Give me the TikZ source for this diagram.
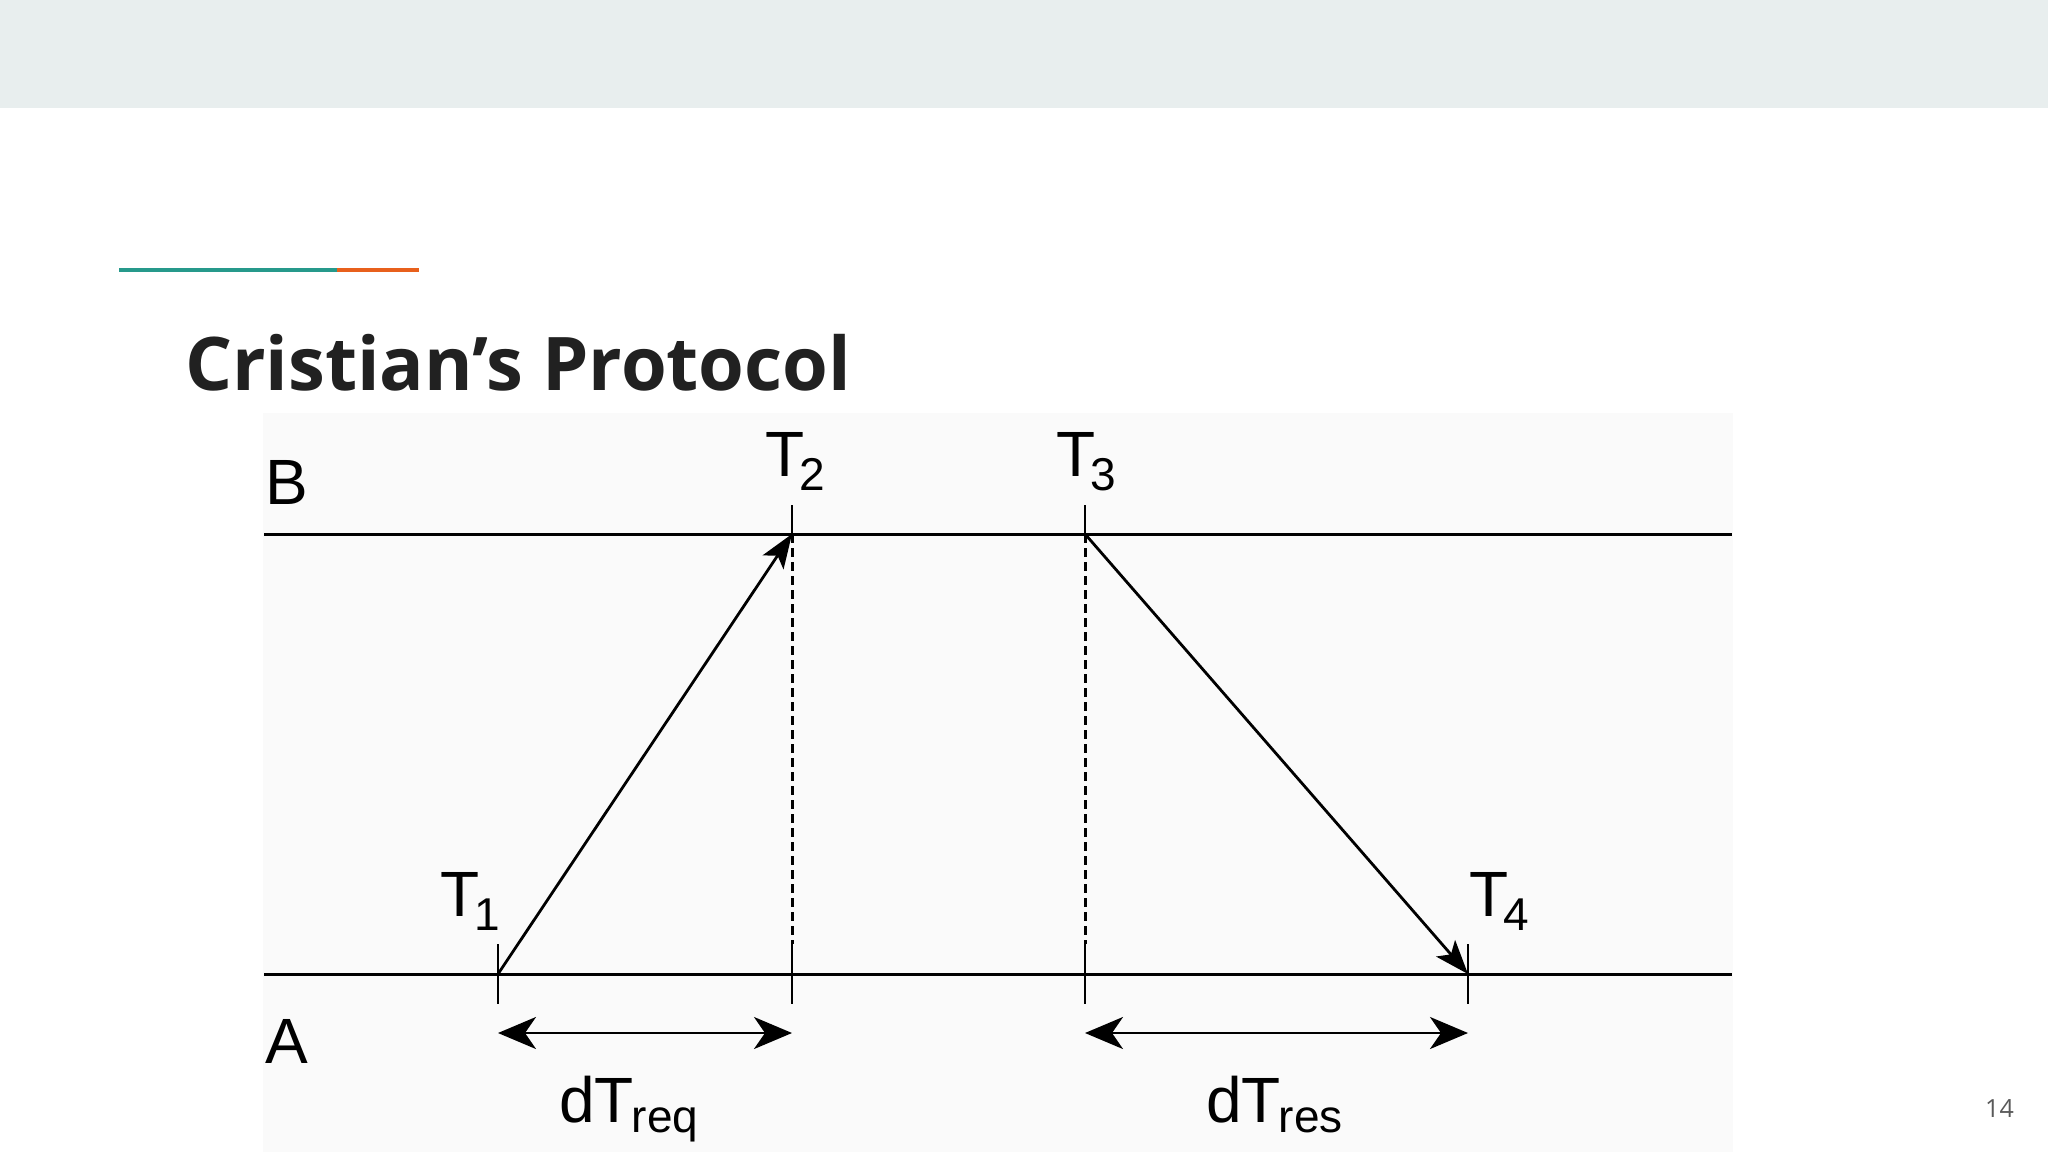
\documentclass[tikz,border=0pt]{standalone}
\usepackage{fontspec}
\setmainfont{Liberation Sans}
\newfontfamily\titlefont{Open Sans}
\usetikzlibrary{arrows.meta}
\definecolor{bandgray}{HTML}{E8EEEE}
\definecolor{accentteal}{HTML}{26998B}
\definecolor{accentorange}{HTML}{E8601C}
\definecolor{titleblack}{HTML}{212121}
\definecolor{diagbg}{HTML}{FAFAFA}
\definecolor{pagegray}{HTML}{595959}
\newcommand\lowsub[1]{\kern-5pt\raisebox{-14pt}{\fontsize{46}{50}\selectfont #1}}
\newcommand\lowword[1]{\kern-2pt\raisebox{-10pt}{\fontsize{46}{50}\selectfont #1}}
\begin{document}
\begin{tikzpicture}[x=1pt,y=-1pt,
  lbl/.style={font=\fontsize{64}{70}\selectfont, inner sep=0pt, anchor=base west},
  axisline/.style={line width=3pt},
  tickmark/.style={line width=2.8pt},
  msg/.style={line width=2.8pt, -{Stealth[length=34pt,width=25pt,inset=8pt]}},
  spanarrow/.style={line width=2.8pt, {Stealth[length=38pt,width=32pt,inset=11pt]}-{Stealth[length=38pt,width=32pt,inset=11pt]}},
  guide/.style={line width=3pt, dash pattern=on 9pt off 5pt}]
\useasboundingbox (0,0) rectangle (2048,1152);
\fill[white] (0,0) rectangle (2048,1152);
\fill[bandgray] (0,0) rectangle (2048,108);
\fill[accentteal] (119,268) rectangle (337,272);
\fill[accentorange] (337,268) rectangle (419,272);
\node[font=\titlefont\bfseries\fontsize{74}{80}\selectfont, text=titleblack, anchor=base west, inner sep=0pt] (title) at (185,390) {Cristian’s Protocol};
\node[font=\titlefont\fontsize{25}{30}\selectfont, text=pagegray, anchor=base east, inner sep=0pt] (pagenum) at (2014,1117) {14};
\fill[diagbg] (263,413) rectangle (1733,1152);
% coordinates
\coordinate (Bl) at (264,534); \coordinate (Br) at (1732,534);
\coordinate (Al) at (264,974); \coordinate (Ar) at (1732,974);
\coordinate (t1) at (498,974); \coordinate (t2) at (792,534);
\coordinate (t3) at (1085,534); \coordinate (t4) at (1468,974);
\coordinate (t2a) at (792,974); \coordinate (t3a) at (1085,974);
\coordinate (s1) at (498,1033); \coordinate (s2) at (792,1033);
\coordinate (s3) at (1085,1033); \coordinate (s4) at (1468,1033);
% process lines
\draw[axisline] (Bl) -- (Br);
\draw[axisline] (Al) -- (Ar);
% ticks
\draw[tickmark] (t2) -- ++(0,-29);
\draw[tickmark] (t3) -- ++(0,-29);
\foreach \c in {t1,t2a,t3a,t4} \draw[tickmark] (\c) ++(0,-30) -- ++(0,60);
% guides
\draw[guide] (t2) -- ([yshift=30pt]t2a);
\draw[guide] (t3) -- ([yshift=30pt]t3a);
% messages
\draw[msg] (t1) -- (t2);
\draw[msg] (t3) -- (t4);
% spans
\draw[spanarrow] (s1) -- (s2);
\draw[spanarrow] (s3) -- (s4);
% labels
\node[lbl] (labB) at (265,504) {B};
\node[lbl] (labA) at (265,1063) {A};
\node[lbl] (labT1) at (440,916) {T\lowsub{1}};
\node[lbl] (labT2) at (765,476) {T\lowsub{2}};
\node[lbl] (labT3) at (1056,476) {T\lowsub{3}};
\node[lbl] (labT4) at (1469,916) {T\lowsub{4}};
\node[lbl] (labreq) at (559,1122) {dT\lowword{req}};
\node[lbl] (labres) at (1206,1122) {dT\lowword{res}};
\end{tikzpicture}
\end{document}
